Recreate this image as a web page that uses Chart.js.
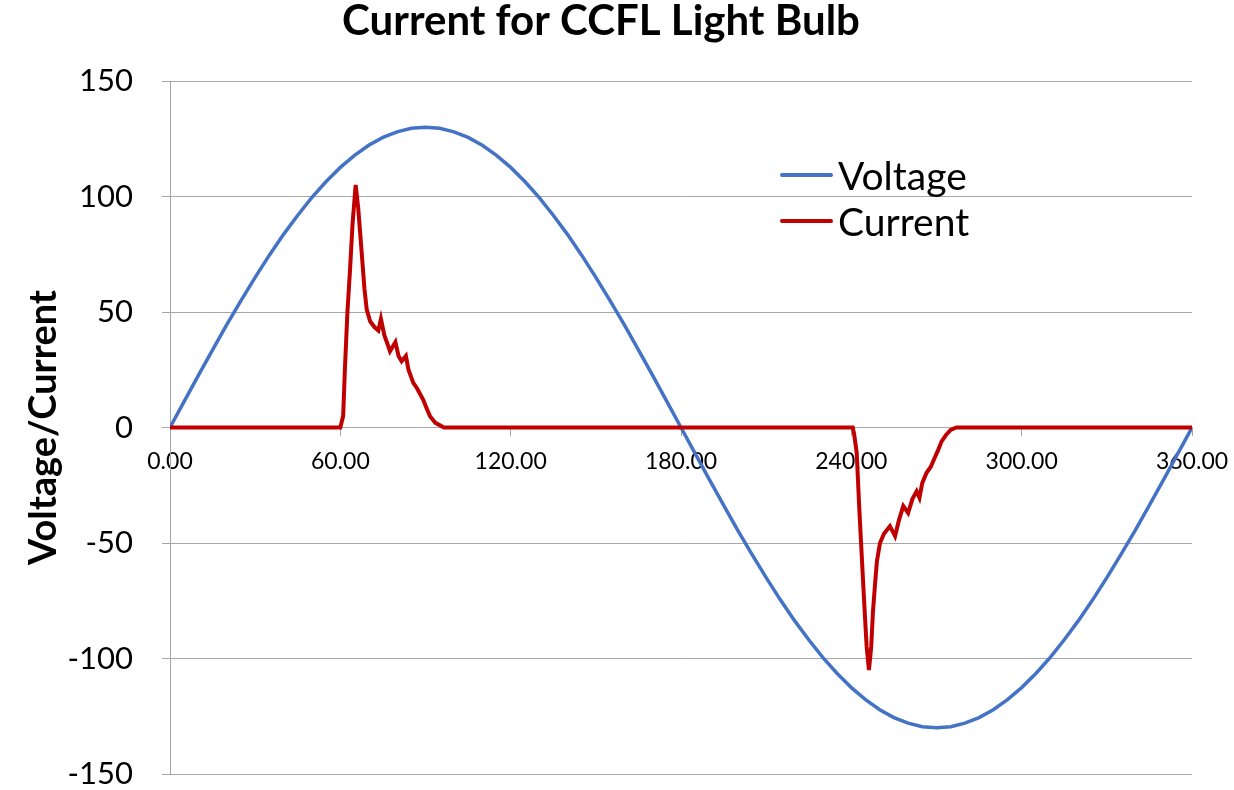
<!DOCTYPE html>
<html>
<head>
<meta charset="utf-8">
<script src="https://cdn.jsdelivr.net/npm/chart.js@4.4.1/dist/chart.umd.min.js"></script>
<style>
  html, body { margin: 0; padding: 0; background: #fff; }
  #wrap { position: relative; width: 1234px; height: 790px; }
  #legend { position: absolute; left: 780px; top: 152px; font-family: Lato, sans-serif; font-size: 39px; color: #000; }
  #legend .row { display: flex; align-items: center; height: 46px; }
  #legend .swatch { width: 53px; height: 3.5px; margin-right: 5px; border-radius: 2px; }
</style>
</head>
<body>
<div id="wrap">
  <canvas id="chart" width="1234" height="790"></canvas>
  <div id="legend">
    <div class="row"><span class="swatch" style="background:#4472C4"></span>Voltage</div>
    <div class="row"><span class="swatch" style="background:#C00000"></span>Current</div>
  </div>
</div>
<script>
const voltageAngles = [0, 5, 10, 15, 20, 25, 30, 35, 40, 45, 50, 55, 60, 65, 70, 75, 80, 85, 90,
  95, 100, 105, 110, 115, 120, 125, 130, 135, 140, 145, 150, 155, 160, 165, 170, 175, 180,
  185, 190, 195, 200, 205, 210, 215, 220, 225, 230, 235, 240, 245, 250, 255, 260, 265, 270,
  275, 280, 285, 290, 295, 300, 305, 310, 315, 320, 325, 330, 335, 340, 345, 350, 355, 360];
const voltageValues = [0, 11.3, 22.6, 33.6, 44.5, 54.9, 65, 74.6, 83.6, 91.9, 99.6, 106.5, 112.6, 117.8, 122.2, 125.6, 128, 129.5, 130,
  129.5, 128, 125.6, 122.2, 117.8, 112.6, 106.5, 99.6, 91.9, 83.6, 74.6, 65, 54.9, 44.5, 33.6, 22.6, 11.3, 0,
  -11.3, -22.6, -33.6, -44.5, -54.9, -65, -74.6, -83.6, -91.9, -99.6, -106.5, -112.6, -117.8, -122.2, -125.6, -128, -129.5, -130,
  -129.5, -128, -125.6, -122.2, -117.8, -112.6, -106.5, -99.6, -91.9, -83.6, -74.6, -65, -54.9, -44.5, -33.6, -22.6, -11.3, 0];

// current pulses
const currentAngles = [0, 60, 61, 61.6, 62.5, 63.4, 64.3, 65.4, 66.3, 67.5, 68.5, 69.3, 70.5, 72, 73.4, 74.3,
  75.5, 77.5, 79.4, 80.5, 81.6, 83.1, 84, 85.7, 87, 89.2, 90.5, 91.6, 93.5, 96.5,
  240.5, 241, 241.9, 242.8, 243.6, 244.5, 245.4, 246.2, 247, 247.6, 248.3, 249, 250.1, 251.5, 253.6,
  255.4, 256.8, 258.3, 260, 261.5, 263, 264, 265, 266.5, 268, 269.4, 270.5, 271.8, 273.5, 275, 277, 360];
const currentValues = [0, 0, 5, 25, 50, 68, 88, 105, 95, 76, 60, 51, 46, 43.5, 42, 47,
  40, 33, 37, 31, 28.7, 31, 25, 19.3, 17, 12, 8, 4.9, 2, 0,
  0, -3, -11, -35, -54, -75, -95, -105, -95, -80, -68.7, -58, -50, -46, -42.7,
  -47, -40, -34, -37, -31, -27.6, -30.4, -24, -19.6, -17, -13, -10, -6, -3, -1, 0, 0];

const yTicks = [-150, -100, -50, 0, 50, 100, 150];

const toPoints = (xs, ys) => xs.map((x, i) => ({ x: x, y: ys[i] }));

const gridColor = "#a6a6a6";

new Chart(document.getElementById("chart").getContext("2d"), {
  type: "line",
  data: {
    datasets: [
      {
        label: "Voltage",
        data: toPoints(voltageAngles, voltageValues),
        borderColor: "#4472C4",
        borderWidth: 3.5,
        pointRadius: 0,
        order: 1,
      },
      {
        label: "Current",
        data: toPoints(currentAngles, currentValues),
        borderColor: "#C00000",
        borderWidth: 4,
        pointRadius: 0,
        order: 0,
      },
    ],
  },
  options: {
    responsive: false,
    animation: false,
    layout: { padding: { left: 10, right: 42, top: 0, bottom: 16 } },
    plugins: {
      legend: { display: false },
      tooltip: { enabled: false },
      title: {
        display: true,
        text: "Current for CCFL Light Bulb",
        color: "#000",
        font: { family: "Lato", size: 42, weight: "bold", lineHeight: 1.0 },
        padding: { top: 0, bottom: 39 },
      },
    },
    scales: {
      x: {
        type: "linear",
        position: { y: 0 },
        min: 0,
        max: 360,
        afterFit: (scale) => {
          // axis sits on y = 0, so it takes no room at the bottom
          scale.height = 0;
          scale.paddingLeft = 0;
          scale.paddingRight = 0;
        },
        ticks: {
          stepSize: 60,
          color: "#000",
          padding: 12,
          maxRotation: 0,
          font: { family: "Lato", size: 23 },
          callback: (v) => v.toFixed(2),
        },
        grid: { drawOnChartArea: false, drawTicks: true, tickLength: 8, color: gridColor },
        border: { display: true, color: gridColor, width: 1 },
      },
      y: {
        min: -150,
        max: 150,
        afterBuildTicks: (scale) => {
          scale.ticks = yTicks.map((v) => ({ value: v }));
        },
        afterFit: (scale) => {
          scale.width = 160;
          scale.paddingTop = 0;
          scale.paddingBottom = 0;
        },
        ticks: {
          color: "#000",
          padding: 29,
          font: { family: "Lato", size: 31, lineHeight: 1 },
        },
        grid: { color: gridColor, tickLength: 8 },
        border: { display: true, color: gridColor, width: 1 },
        title: {
          display: true,
          text: "Voltage/Current",
          color: "#000",
          font: { family: "Lato", size: 38, weight: "bold", lineHeight: 1.2 },
          padding: { top: 11, bottom: 0 },
        },
      },
    },
  },
});
</script>
</body>
</html>
